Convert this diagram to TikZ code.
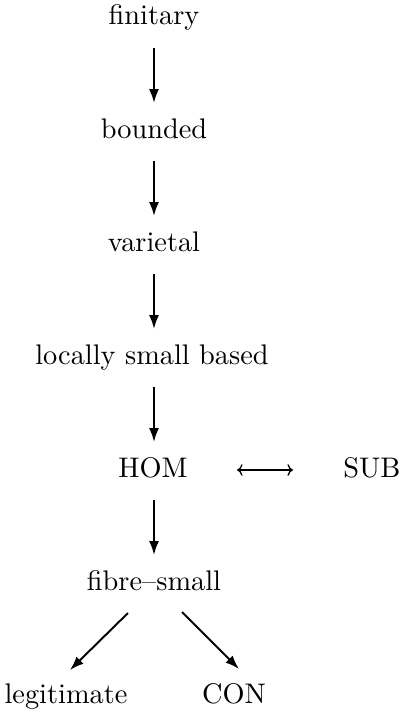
\documentclass[tikz,border=0pt]{standalone}
\usetikzlibrary{arrows.meta,calc}
\begin{document}
\begin{tikzpicture}[x=0.36pt,y=-0.36pt,
  lab/.style={anchor=base,inner sep=0pt,font=\fontsize{10.2}{12}\selectfont},
  arr/.style={line width=0.7pt,-{Latex[length=5pt,width=3.6pt]}},
  darr/.style={line width=0.45pt,{To[length=2pt]}-{To[length=2pt]}}]
\useasboundingbox (0,0) rectangle (404,714);
\node[lab] (fin) at (154,25) {finitary};
\node[lab] (bnd) at (154,138) {bounded};
\node[lab] (var) at (154,251) {varietal};
\node[lab] (lsb) at (152,364) {locally small based};
\node[lab] (hom) at (153,477) {HOM};
\node[lab] (sub) at (372,477) {SUB};
\node[lab] (fib) at (154,590) {fibre--small};
\node[lab] (leg) at (66,703) {legitimate};
\node[lab] (con) at (234,703) {CON};
\draw[arr] ($(fin.base)+(0,23)$) -- ($(bnd.base)+(0,-35)$);
\draw[arr] ($(bnd.base)+(0,23)$) -- ($(var.base)+(0,-35)$);
\draw[arr] ($(var.base)+(0,23)$) -- ($(lsb.base)+(2,-35)$);
\draw[arr] ($(lsb.base)+(2,23)$) -- ($(hom.base)+(1,-35)$);
\draw[arr] ($(hom.base)+(1,23)$) -- ($(fib.base)+(0,-35)$);
\draw[arr] ($(fib.base)+(-26,23)$) -- ($(leg.base)+(4,-33)$);
\draw[arr] ($(fib.base)+(28,22)$) -- ($(con.base)+(5,-34)$);
\draw[darr] ($(hom.base)+(84,-7)$) -- ($(sub.base)+(-79,-7)$);
\end{tikzpicture}
\end{document}
